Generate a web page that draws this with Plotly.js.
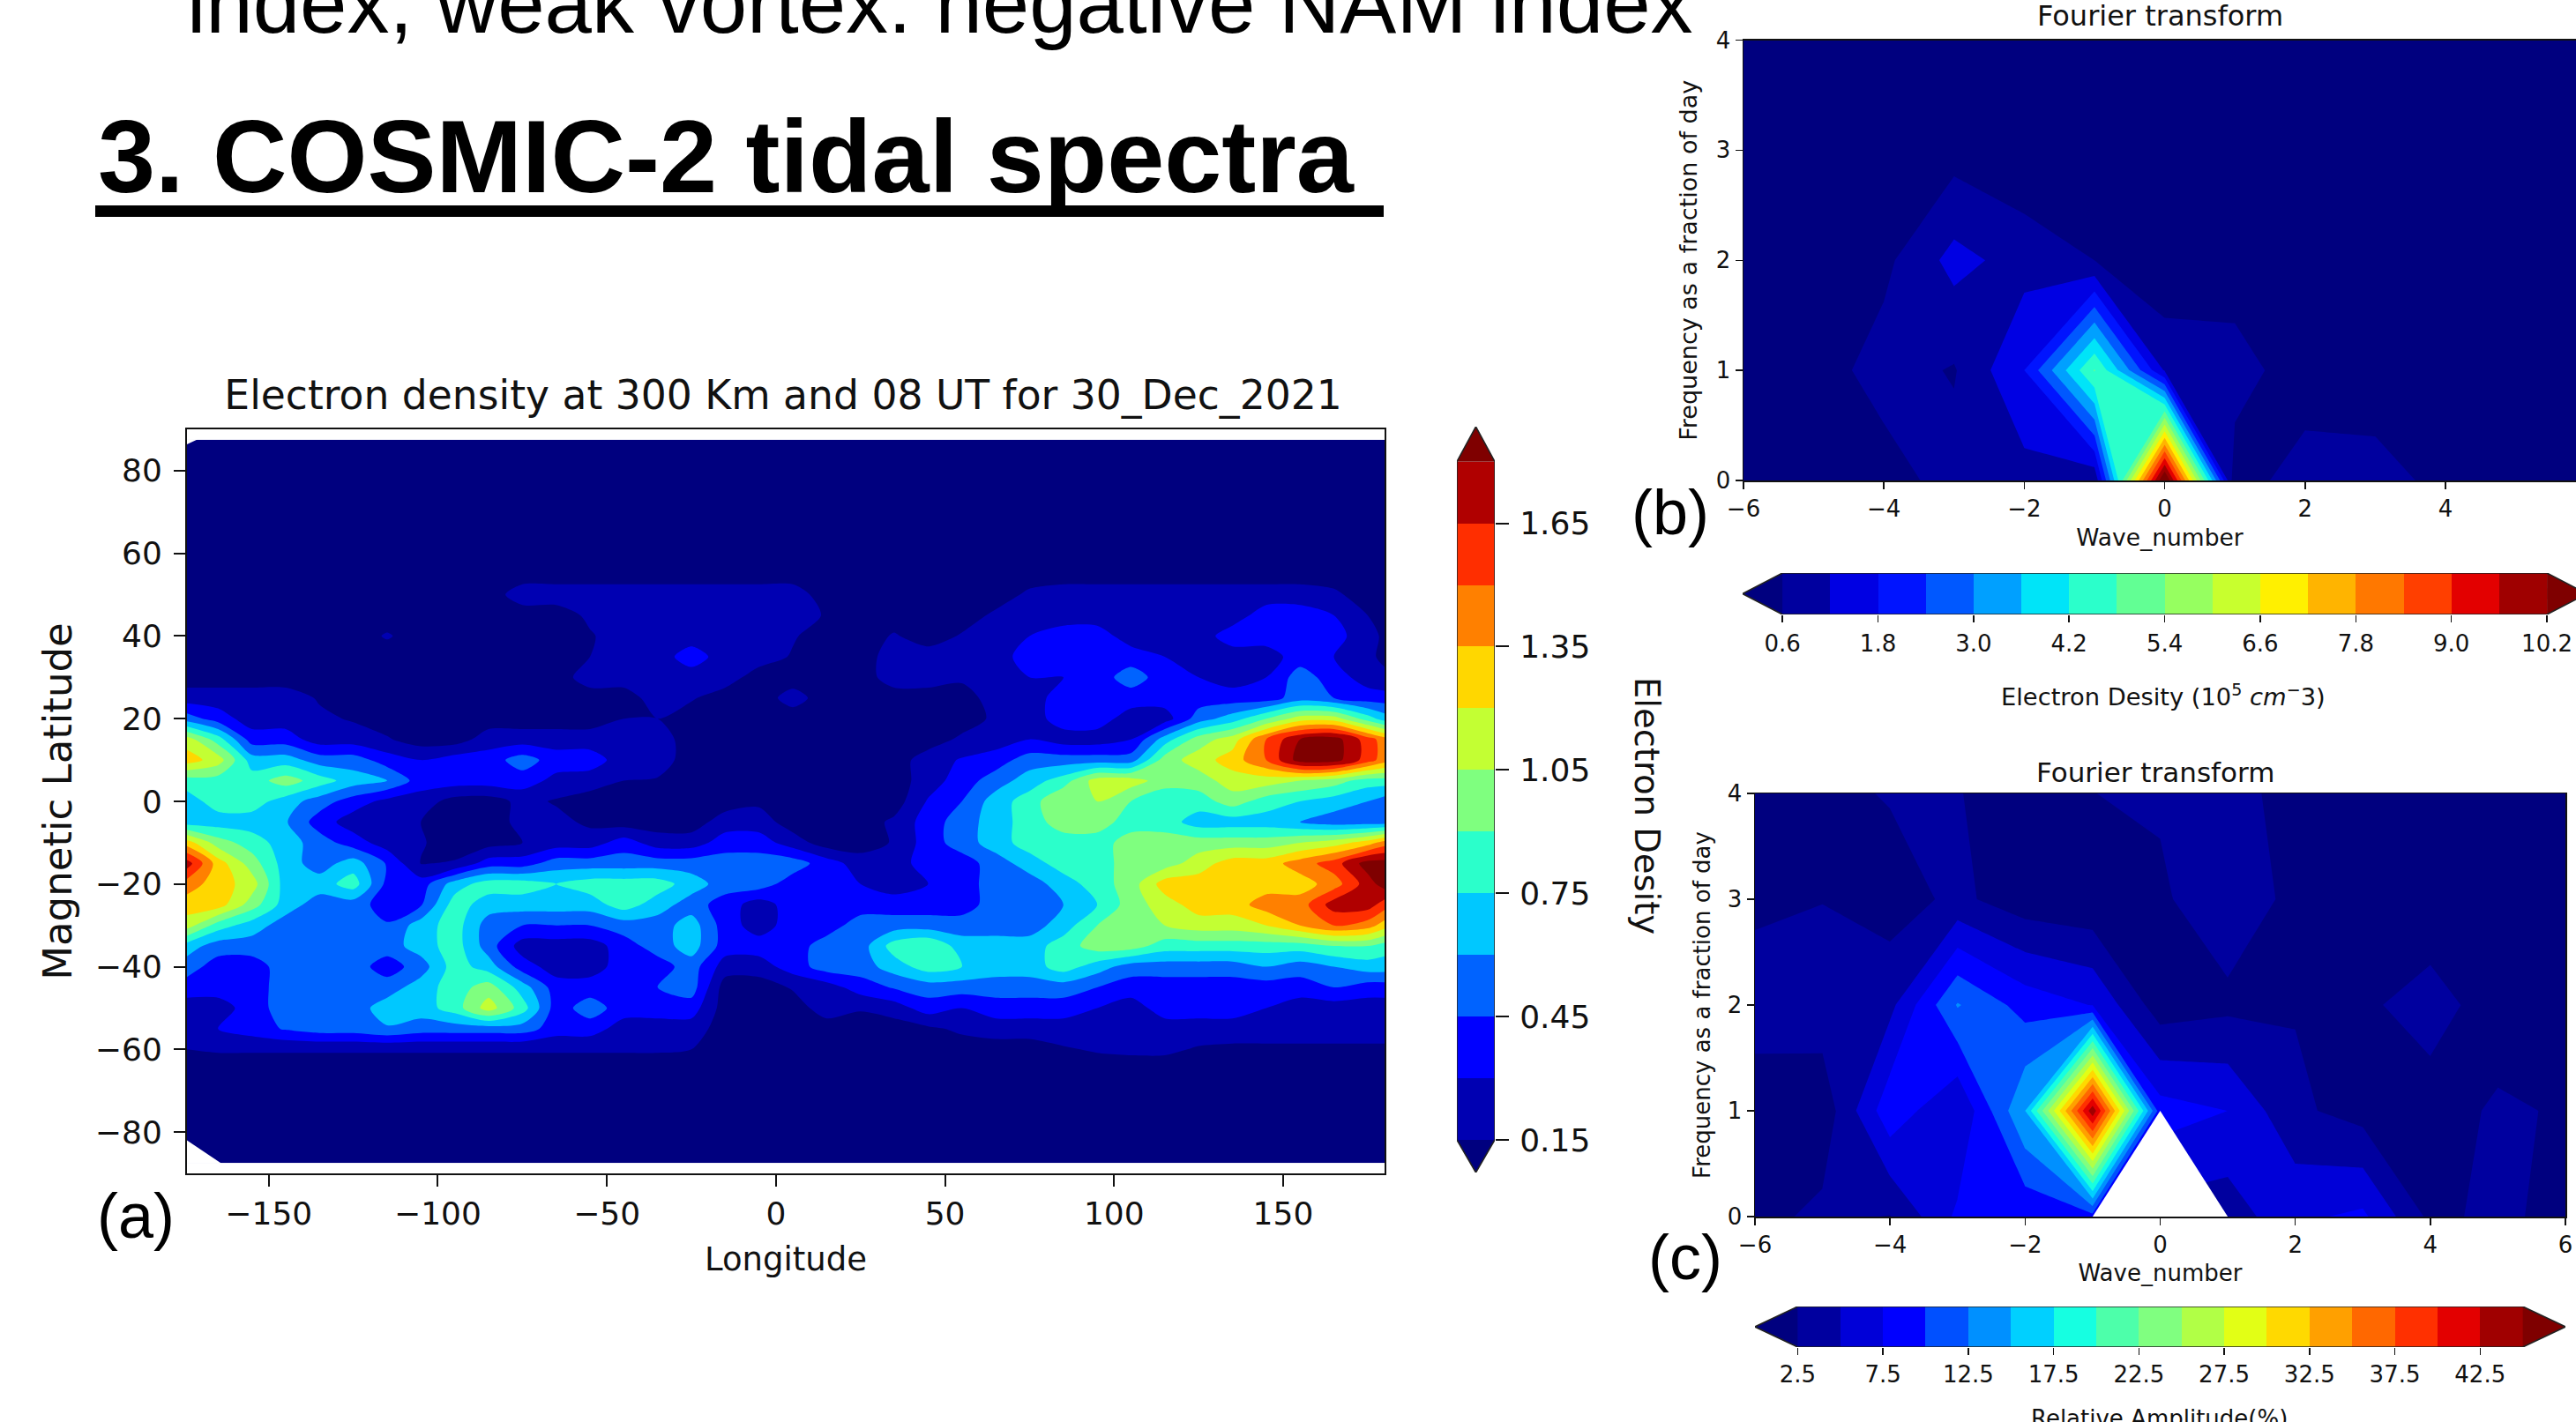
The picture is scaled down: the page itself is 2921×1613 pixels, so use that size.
<!DOCTYPE html>
<html>
<head>
<meta charset="utf-8">
<script src="https://cdn.plot.ly/plotly-3.0.1.min.js"></script>
<style>html,body{margin:0;padding:0;background:#fff;overflow:hidden}#chart{width:2921px;height:1613px}</style>
</head>
<body>
<div id="chart"></div>
<script>
// ---------- Panel (a): electron density in units of one contour band (0.15)
const longitudes = [-174.2,-165,-155,-145,-135,-125,-115,-105,-95,-85,-75,-65,-55,-45,-35,-25,-15,-5,5,15,25,35,45,55,65,75,85,95,105,115,125,135,145,155,165,175,180];
const latitudes = [87.5,60,55,50,45,40,35,30,25,20,15,10,5,0,-5,-10,-15,-20,-25,-30,-35,-40,-45,-50,-55,-60,-65,-87.5];
const densityBands = [
[0,0,0,0,0,0,0,0,0,0,0,0,0, 0,0,0,0,0,0,0,0,0,0, 0,0,0,0,0,0,0,0,0,0,0,0,0,0],
[0,0,0,0,0,0,0,0,0,0,0,0,0, 0,0,0,0,0,0,0,0,0,0, 0,0,0,0,0,0,0,0,0,0,0,0,0,0],
[0,0,0,0,0,0,0,0,0,0,0,0,0, 0,0,0,0,0,0,0,0,0,0, 0,0,0,0,0,0,0,0,0,0,0,0,0,0],
[0,0,0,0,0,0,0,0,0,0,1,1,1, 1,1,1,1,1,1,0,0,0,0, 0,0,.7,1,1,1,1,1,1,1,1,.7,0,0],
[0,0,0,0,0,0,0,0,0,0,0,0,.7, 1,1,1,1,1,1,.4,0,0,0, 0,.7,1,1,1,1,1,1,1,2,2,1.5,.5,.4],
[0,0,0,0,0,0,.6,0,0,0,0,0,.4, 1,1,1,1,1,.6,0,0,.6,0, .6,1,1.5,2,2,1,1,1,2,2,2,2,.7,.4],
[0,0,0,0,0,0,0,0,0,0,0,0,.5, 1,1,2,1,1,.4,0,0,1,1, 1,1,2,2,1.5,2,1.5,1,1,1,2,1.5,.6,.4],
[0,0,0,0,0,0,0,0,0,0,0,0,1, .6,1,1,1,0,0,0,0,1,1, .7,1,1.5,1.5,2,3,2,1.5,1,1.5,3,2,1,.6],
[1,1,1,1,.4,0,0,0,0,0,0,0,0, .4,.6,.6,0,0,.9,0,0,0,0, 0,1,1,2,2,2,2,2,2,2,3,2.5,2,2],
[3,2,1,1,.7,.4,0,0,0,0,0,0,0, .5,.5,0,0,0,0,0,0,0,0, 0,.7,1,2,2,1,1,3,4,5.5,7,7,5,4],
[7,5,2,2,1,1,.6,0,0,1,1,1,1, 1,1,0,0,0,0,0,0,0,0, .7,1,1.5,1,1,1.5,4,6,7,9.5,11.5,12,10,9],
[8,7,4,4,3,3,2,1.5,2,2,3,2,2, 1,1,0,0,0,0,0,0,0,1, 1.6,2,3,3,3,3,6,7,8,9.5,12,12,10,9],
[5,5,5,6,5,4,3.5,2,2,2,2,1.2,1, .5,.4,0,0,0,0,0,0,0,1, 2,3,4,5,7,7,6,6,7,7,6.5,6,5,5],
[4,5,5,4,3,2,1.2,1,.1,0,.8,.4,0, 0,0,0,0,.3,0,0,0,0,1.6, 2.5,4,5,6.5,6.5,5.5,4.7,5,6,5,4.5,4,3.5,3],
[4,4,4,3.6,2,1,1,.5,0,0,.8,.8,.3, 0,0,0,1,1,0,0,0,.7,2, 3,4,5,6,6,5,5,4,4,4,3.5,3,3,3],
[8,6,5,4,3,2,1,.6,0,.1,.5,1,1, 2,1,1,2,2,1,0,0,.6,2, 3,4,5,5,5,6,6,6,6,6,6.5,7,8,9],
[11,8,6,4,3,4,2.4,.45,.6,2,2,3,3, 3,3,3,3,3,3,2,1,1,2, 2,3,4,5,5,6,6,7,8,8,9,10,12,12],
[9,8,7,4,4,5,2.2,2,4,5,5,4.5,5, 5,5,4,3,3,2,2,1.5,1,1.5, 2,3,3,4,5,6,8,8,8,8,8,9,11,12],
[8,8,6,4,3,3,2,2.4,5,4,4,4,4, 5,4,3,2,1,2,2,2,2,2, 2,3,3,3.5,4.5,6,7,8,8,9,9,11,11,10],
[7,5,4,3,3,3,2.6,4,5,3,2.5,2.5,2.5, 3,3,4,2,1,2,2,3,3,3, 3,3,3,4,5.5,6,6.5,7,7,7.5,8.5,9.5,9,8],
[4,3,3,3,3,3,3,4,5,3,1,1,1, 2,3,4,2,2,2,3,3,5,5.5, 4,4,4,5,6,6,5,5,5,5,5,5.5,5.5,5],
[3,2,2,3,3,3,2,3,5,4,2,1,1, 2,2,3,1,1,2,3,3,4,5, 4.5,4,4,5,4,3,3,3,3,3.5,3,3.5,4,4],
[2,2,2,3,3,3,3,4,5,6,4,2,2, 2,2.5,3,0,0,.6,1,2,2.6,3, 3,3,3,3,2.5,2,2,2,2,2,2,2.5,2,2],
[1,1,2,3,3,3,4,4,5,7,5,2,3, 2,2,2,0,0,0,1,.6,1,2, 1.5,2,2,2,1.5,1,2,2,2,1.5,1,1,1,1],
[1,1.5,2,2.6,3,3,3.4,3,3,3,3,2,2, 1,1,1,0,0,0,0,0,0,.3, .7,1,1,1,1,1,1,1,1,1,1,1,1,1],
[.5,.6,.6,.6,.6,.6,.6,.6,.6,.6,.6,.6,.6, .6,.6,.5,0,0,0,0,0,0,0, 0,0,0,.4,.6,.7,.7,.4,.3,.3,.3,.3,.3,.3],
[0,0,0,0,0,0,0,0,0,0,0,0,0, 0,0,0,0,0,0,0,0,0,0, 0,0,0,0,0,0,0,0,0,0,0,0,0,0],
[0,0,0,0,0,0,0,0,0,0,0,0,0, 0,0,0,0,0,0,0,0,0,0, 0,0,0,0,0,0,0,0,0,0,0,0,0,0]
];
const densityLevels = [0.15,0.30,0.45,0.60,0.75,0.90,1.05,1.20,1.35,1.50,1.65,1.80];
const densityColors = ['#00007f','#0000b2','#0000ff','#0063ff','#00c8ff','#2bffcb','#7fff7f','#c3ff33','#ffd700','#ff8000','#ff2e00','#b00000','#7f0000'];
const densityTicks = [0.15,0.45,0.75,1.05,1.35,1.65];
const densityTickText = ['0.15','0.45','0.75','1.05','1.35','1.65'];
const lonTicks = [-150,-100,-50,0,50,100,150];
const latTicks = [-80,-60,-40,-20,0,20,40,60,80];

// ---------- Panels (b), (c): wave number / frequency spectra
const waveNumbers = [-6,-5,-4,-3,-2,-1,0,1,2,3,4,5,6];
const frequencies = [0,1,2,3,4];
const spectrumB = [
[.1,.2,.33,.85,.95,.7,11,.1,1.1,1.0,.3,.2,.2],
[.2,.3,.85,.55,1.8,4.85,1.15,1.05,0,0,.1,.1,.1],
[.1,.1,.45,1.4,.95,.6,0,0,0,0,.1,.1,.1],
[.1,.1,.1,.35,.12,0,0,0,0,0,0,0,0],
[.05,.05,.05,.05,.05,.05,.05,.05,.05,.05,.05,.05,.05]
];
const levelsB = [0.6,1.2,1.8,2.4,3.0,3.6,4.2,4.8,5.4,6.0,6.6,7.2,7.8,8.4,9.0,9.6,10.2];
const colorsB = ['#00007f','#00009f','#0000e3','#0014ff','#0058ff','#00a0ff','#00e4f8','#2bffcb','#62ff94','#96ff60','#c8ff2e','#fff000','#ffb400','#ff7800','#ff3f00','#e30000','#9f0000','#7f0000'];
const ticksB = [0.6,1.8,3.0,4.2,5.4,6.6,7.8,9.0,10.2];
const tickTextB = ['0.6','1.8','3.0','4.2','5.4','6.6','7.8','9.0','10.2'];

const spectrumC = [
[1.66,3.1,2.4,8,8,9,4,3.5,7,8,1.9,3.1,1.6],
[1.5,.83,9.2,5,15,44.3,8.6,7.5,3,1.5,1.75,2.74,2.34],
[3.35,3.9,4.3,12.7,9,7.4,1.1,1.9,2.35,2.2,3.2,1.65,1.5],
[2.15,2.43,1.3,3.1,1,.5,2.1,4.2,1.8,1.5,1.35,1.4,1.4],
[1.5,1.8,2.7,2.6,1.4,2.48,2.8,3.5,1.5,1.5,1.5,1.5,1.5]
];
const levelsC = [2.5,5,7.5,10,12.5,15,17.5,20,22.5,25,27.5,30,32.5,35,37.5,40,42.5,45];
const colorsC = ['#00007f','#00009f','#0000d8','#0000ff','#0050ff','#0090ff','#00d0ff','#16ffe1','#4dffaa','#80ff80','#b1ff46','#e2ff15','#ffd900','#ffa000','#ff6800','#ff3000','#e30000','#a00000','#7f0000'];
const ticksC = [2.5,7.5,12.5,17.5,22.5,27.5,32.5,37.5,42.5];
const tickTextC = ['2.5','7.5','12.5','17.5','22.5','27.5','32.5','37.5','42.5'];
const maskedCellC = {x:[-1,1,0], y:[0,0,1]};   // no data at wave 0, frequency 0

const freqTicks = [0,1,2,3,4];
const waveTicks = [-6,-4,-2,0,2,4,6];

// ---------- Page geometry
const W = 2921, H = 1613;
const px = v => v / W;
const py = v => 1 - v / H;
const CHART = 'DejaVu Sans', SLIDE = 'Liberation Sans', INK = '#111';

function stepScale(colors){
  const n = colors.length, out = [];
  colors.forEach((c,i)=>{ out.push([i/n,c]); out.push([(i+1)/n,c]); });
  return out;
}
function contourTrace(x,y,z,levels,colors,xa,ya,smooth){
  const step = levels[1]-levels[0];
  return {type:'contour',x,y,z,xaxis:xa,yaxis:ya,autocontour:false,showscale:false,hoverinfo:'skip',
    contours:{start:levels[0],end:levels[levels.length-1],size:step,coloring:'fill',showlines:false},
    line:{width:0,smoothing:smooth},colorscale:stepScale(colors),zauto:false,
    zmin:levels[0]-step,zmax:levels[levels.length-1]+step};
}
function poly(x,y,color,xa,ya){
  return {type:'scatter',mode:'lines',x,y,xaxis:xa,yaxis:ya,fill:'toself',fillcolor:color,line:{width:0,color:color},hoverinfo:'skip',showlegend:false};
}
function outline(x,y,xa,ya){
  return {type:'scatter',mode:'lines',x,y,xaxis:xa,yaxis:ya,line:{width:1.6,color:'#222'},hoverinfo:'skip',showlegend:false};
}
function hBar(levels,colors,xa,ya,tipLow,tipHigh){
  const step = levels[1]-levels[0], lo = levels[0], hi = levels[levels.length-1];
  const centres = levels.slice(0,-1).map(v=>v+step/2);
  return [
    {type:'bar',x:centres,y:centres.map(()=>1),width:centres.map(()=>step),base:0,xaxis:xa,yaxis:ya,
     marker:{color:colors.slice(1,-1),line:{width:0}},hoverinfo:'skip',showlegend:false},
    poly([lo,tipLow,lo,lo],[0,.5,1,0],colors[0],xa,ya),
    poly([hi,tipHigh,hi,hi],[0,.5,1,0],colors[colors.length-1],xa,ya),
    outline([lo,tipLow,lo,hi,tipHigh,hi,lo],[0,.5,1,1,.5,0,0],xa,ya)
  ];
}
function vBar(levels,colors,xa,ya,tipLow,tipHigh){
  const step = levels[1]-levels[0], lo = levels[0], hi = levels[levels.length-1];
  const centres = levels.slice(0,-1).map(v=>v+step/2);
  return [
    {type:'bar',orientation:'h',y:centres,x:centres.map(()=>1),width:centres.map(()=>step),base:0,xaxis:xa,yaxis:ya,
     marker:{color:colors.slice(1,-1),line:{width:0}},hoverinfo:'skip',showlegend:false},
    poly([0,.5,1,0],[lo,tipLow,lo,lo],colors[0],xa,ya),
    poly([0,.5,1,0],[hi,tipHigh,hi,hi],colors[colors.length-1],xa,ya),
    outline([0,.5,1,1,.5,0,0],[lo,tipLow,lo,hi,tipHigh,hi,lo],xa,ya)
  ];
}

const latAsc = latitudes.slice().reverse();
const zA = densityBands.slice().reverse().map(r=>r.map(v=>0.15*v+0.075));

const traces = [
  contourTrace(longitudes,latAsc,zA,densityLevels,densityColors,'x','y',0.8),
  poly([-174.2,-174.2,-164,-174.2],[-82,-87.6,-87.6,-82],'#fff','x','y'),
  poly([-174.2,-174.2,-171,-174.2],[87.6,86.4,87.6,87.6],'#fff','x','y'),
  contourTrace(waveNumbers,frequencies,spectrumB,levelsB,colorsB,'x2','y2',0),
  contourTrace(waveNumbers,frequencies,spectrumC,levelsC,colorsC,'x3','y3',0),
  poly(maskedCellC.x.concat(maskedCellC.x[0]),maskedCellC.y.concat(maskedCellC.y[0]),'#fff','x3','y3'),
  ...vBar(densityLevels,densityColors,'x4','y4',0.0707,1.885),
  ...hBar(levelsB,colorsB,'x5','y5',0.1,10.7),
  ...hBar(levelsC,colorsC,'x6','y6',0,47.5)
];

const tickBase = size => ({ticks:'outside',showgrid:false,zeroline:false,showline:true,linecolor:'#111',
  tickcolor:'#111',tickfont:{family:CHART,size,color:INK}});

function text(t,x,y,size,opts){
  return Object.assign({text:t,xref:'paper',yref:'paper',x:px(x),y:py(y),showarrow:false,xanchor:'center',yanchor:'middle',
    font:{family:CHART,size,color:INK}},opts||{});
}

const layout = {
  width:W,height:H,paper_bgcolor:'#fff',plot_bgcolor:'#fff',showlegend:false,bargap:0,barmode:'overlay',
  margin:{l:0,r:0,t:0,b:0,pad:0,autoexpand:false},
  title:{text:'Electron density at 300 Km and 08 UT for 30_Dec_2021',x:px(888),y:py(448),xref:'paper',yref:'paper',
    xanchor:'center',yanchor:'middle',font:{family:CHART,size:45.6,color:INK}},
  xaxis:Object.assign(tickBase(36),{domain:[px(212),px(1570)],range:[-174.2,180],anchor:'y',tickvals:lonTicks,ticklen:13,tickwidth:2,linewidth:2,mirror:true,automargin:true,
    title:{text:'Longitude',font:{family:CHART,size:37,color:INK},standoff:19}}),
  yaxis:Object.assign(tickBase(36),{domain:[py(1331),py(487)],range:[-90,90],anchor:'x',tickvals:latTicks,ticklen:13,tickwidth:2,linewidth:2,mirror:true,automargin:true,ticklabelstandoff:6,
    title:{text:'Magnetic Latitude',font:{family:CHART,size:45,color:INK},standoff:12}}),
  xaxis2:Object.assign(tickBase(26),{domain:[px(1977),px(2921)],range:[-6,5.86],anchor:'y2',tickvals:waveTicks,ticklen:8,tickwidth:1.5,linewidth:1.5,mirror:true,automargin:true,
    title:{text:'Wave_number',font:{family:CHART,size:26.5,color:INK},standoff:9}}),
  yaxis2:Object.assign(tickBase(26),{domain:[py(545),py(45.5)],range:[0,4],anchor:'x2',tickvals:freqTicks,ticklen:8,tickwidth:1.5,linewidth:1.5,automargin:true,
    title:{text:'Frequency as a fraction of day',font:{family:CHART,size:27,color:INK},standoff:13}}),
  xaxis3:Object.assign(tickBase(26),{domain:[px(1990),px(2909)],range:[-6,6],anchor:'y3',tickvals:waveTicks,ticklen:8,tickwidth:1.5,linewidth:1.5,mirror:true,automargin:true,
    title:{text:'Wave_number',font:{family:CHART,size:26,color:INK},standoff:9}}),
  yaxis3:Object.assign(tickBase(26),{domain:[py(1380),py(900)],range:[0,4],anchor:'x3',tickvals:freqTicks,ticklen:8,tickwidth:1.5,linewidth:1.5,mirror:true,automargin:true,
    title:{text:'Frequency as a fraction of day',font:{family:CHART,size:26,color:INK},standoff:11}}),
  xaxis4:{domain:[px(1652),px(1695)],range:[0,1],visible:false,anchor:'y4',fixedrange:true},
  yaxis4:Object.assign(tickBase(36),{domain:[py(1330),py(484)],range:[0.0707,1.885],anchor:'x4',side:'right',showline:false,tickvals:densityTicks,ticktext:densityTickText,ticklen:15,tickwidth:2,ticklabelstandoff:5}),
  xaxis5:Object.assign(tickBase(26),{domain:[px(1976),px(2921)],range:[0.1,10.565],anchor:'y5',showline:false,tickvals:ticksB,ticktext:tickTextB,ticklen:8,tickwidth:1.5,ticklabelstandoff:2}),
  yaxis5:{domain:[py(697),py(650)],range:[0,1],visible:false,anchor:'x5',fixedrange:true},
  xaxis6:Object.assign(tickBase(26),{domain:[px(1990),px(2909)],range:[0,47.5],anchor:'y6',showline:false,tickvals:ticksC,ticktext:tickTextC,ticklen:8,tickwidth:1.5}),
  yaxis6:{domain:[py(1528),py(1482)],range:[0,1],visible:false,anchor:'x6',fixedrange:true},
  annotations:[
    text('index, weak vortex: negative NAM index',210,3,96,{font:{family:SLIDE,size:96,color:'#000'},xanchor:'left'}),
    text('3. COSMIC-2 tidal spectra',109,178,117,{font:{family:SLIDE,size:117,color:'#000',weight:700},xanchor:'left'}),
    text('Fourier transform',2449,18,32),
    text('Fourier transform',2444,876,31),
    text('Electron Desity (10<sup>5</sup> <i>cm</i><sup>−</sup>3)',2453,788,27.3),
    text('Relative Amplitude(%)',2448,1609,26),
    text('Electron Desity',1868,914,38.5,{textangle:90}),
    text('(a)',108,1379,72,{font:{family:SLIDE,size:72,color:'#000'},xanchor:'left'}),
    text('(b)',1848,581,72,{font:{family:SLIDE,size:72,color:'#000'},xanchor:'left'}),
    text('(c)',1867,1426,72,{font:{family:SLIDE,size:72,color:'#000'},xanchor:'left'})
  ],
  shapes:[
    {type:'rect',xref:'paper',yref:'paper',x0:px(108),x1:px(1569),y0:py(246),y1:py(233),fillcolor:'#000',line:{width:0}}
  ]
};

Plotly.newPlot('chart',traces,layout,{staticPlot:true,displayModeBar:false});
</script>
</body>
</html>
